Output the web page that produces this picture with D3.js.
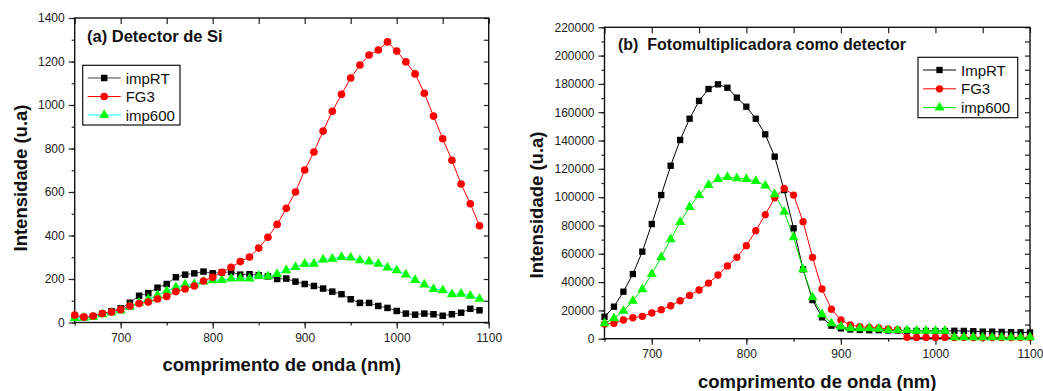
<!DOCTYPE html>
<html>
<head>
<meta charset="utf-8">
<script src="https://cdn.jsdelivr.net/npm/d3@7"></script>
<style>
  body { margin: 0; background: #fff; }
  svg { display: block; font-family: Arial, "Liberation Sans", Helvetica, sans-serif; }
  .tick text { fill: #222; font-size: 12px; }
  .tick line { stroke: #222; stroke-width: 1.2; }
</style>
</head>
<body>
<svg id="chart" width="1043" height="391"></svg>
<script>
// wavelengths (nm)
var wlA = [650,660,670,680,690,700,710,720,730,740,750,760,770,780,790,800,810,820,830,840,
           850,860,870,880,890,900,910,920,930,940,950,960,970,980,990,1000,1010,1020,1030,1040,
           1050,1060,1070,1080,1090];
var wlB = [650,660,670,680,690,700,710,720,730,740,750,760,770,780,790,800,810,820,830,840,
           850,860,870,880,890,900,910,920,930,940,950,960,970,980,990,1000,1010,1020,1030,1040,
           1050,1060,1070,1080,1090,1100];

// (a) Detector de Si
var impRT_a = [25,25,28,40,52,65,91,123,135,160,177,208,220,226,234,226,231,232,220,222,
               217,212,200,202,188,177,168,156,142,130,107,90,90,76,67,53,41,36,41,38,
               31,38,45,63,56];
var fg3_a = [34,25,30,41,48,59,76,87,94,108,120,142,154,168,191,208,231,254,280,301,
             342,392,451,525,600,701,784,880,971,1049,1124,1184,1230,1253,1290,1248,1198,1143,1054,949,
             845,746,637,546,445];
var imp600_a = [20,22,25,38,45,55,72,90,108,125,145,162,174,177,188,194,195,202,203,202,
                215,212,223,240,255,270,270,289,293,301,298,286,280,270,252,240,220,195,174,154,
                148,130,132,123,109];

// (b) Fotomultiplicadora como detector
var impRT_b = [15500,22600,33200,45700,61500,81000,101500,122200,140400,155400,
               168000,176400,179700,177300,170300,163900,155400,144400,128600,105000,
               78000,49000,27300,15100,9200,7300,6500,6200,6000,6000,
               5800,5800,5600,5500,5500,5400,5400,5600,5500,5300,
               5000,5000,4800,4600,4500,4400];
var fg3_b = [10400,10900,13200,14800,15800,18200,20500,23300,26800,30600,
             34400,39300,45000,51400,57500,65700,76300,87600,99500,106200,
             101500,82700,57500,35100,20800,13200,9700,8500,8000,7600,
             6900,6400,1000,900,900,900,900,800,800,800,
             800,800,800,800,800,800];
var imp600_b = [10900,14400,19600,26800,34900,45700,57500,70200,82400,93000,
                101500,108600,112800,114200,113300,112800,111400,108100,102000,89700,
                71600,49000,29200,17200,10900,8500,7300,7300,7300,6900,
                6000,6000,6000,5600,5600,5600,5600,1000,1000,1000,
                1000,1000,1000,1000,1000,1000];

var xTicks = [700,800,900,1000,1100];
var xMinor = [650,700,750,800,850,900,950,1000,1050,1100];
var yTicksA = [0,200,400,600,800,1000,1200,1400];
var yMinorA = [0,100,200,300,400,500,600,700,800,900,1000,1100,1200,1300,1400];
var yTicksB = [0,20000,40000,60000,80000,100000,120000,140000,160000,180000,200000,220000];
var yMinorB = [0,10000,20000,30000,40000,50000,60000,70000,80000,90000,100000,110000,
               120000,130000,140000,150000,160000,170000,180000,190000,200000,210000,220000];

var svg = d3.select("#chart");
var fmt = d3.format("d");

function drawPanel(p) {
  var x = d3.scaleLinear().domain([650, 1100]).range([p.left, p.right]);
  var y = d3.scaleLinear().domain([0, p.ymax]).range([p.bottom, p.top]);
  var g = svg.append("g");

  // minor ticks
  g.append("g").attr("transform", "translate(" + p.left + ",0)")
    .call(d3.axisLeft(y).tickValues(p.yMinor).tickSize(3).tickFormat(""));
  g.append("g").attr("transform", "translate(0," + p.bottom + ")")
    .call(d3.axisBottom(x).tickValues(xMinor).tickSize(3).tickFormat(""));
  // major ticks
  g.append("g").attr("transform", "translate(" + p.left + ",0)")
    .call(d3.axisLeft(y).tickValues(p.yTicks).tickSize(6).tickPadding(4).tickFormat(fmt));
  g.append("g").attr("transform", "translate(0," + p.bottom + ")")
    .call(d3.axisBottom(x).tickValues(xTicks).tickSize(6).tickPadding(5).tickFormat(fmt));
  // mirrored inward ticks on top and right
  g.append("g").attr("transform", "translate(0," + p.top + ")")
    .call(d3.axisBottom(x).tickValues(xMinor).tickSize(6).tickFormat(""));
  g.append("g").attr("transform", "translate(" + p.right + ",0)")
    .call(d3.axisLeft(y).tickValues(p.yMinor).tickSize(5).tickFormat(""));
  g.selectAll(".domain").remove();

  g.append("rect")
    .attr("x", p.left).attr("y", p.top)
    .attr("width", p.right - p.left).attr("height", p.bottom - p.top)
    .attr("fill", "none").attr("stroke", "#111").attr("stroke-width", 1.4);

  var line = d3.line().x(function(d) { return x(d[0]); }).y(function(d) { return y(d[1]); });

  p.series.forEach(function(s) {
    var pts = p.wl.map(function(w, i) { return [w, s.values[i]]; });
    g.append("path").datum(pts)
      .attr("d", line).attr("fill", "none")
      .attr("stroke", s.line).attr("stroke-width", 1);
  });
  p.order.forEach(function(k) {
    var s = p.series[k];
    var sym = d3.symbol().type(s.shape).size(s.size);
    g.append("g").selectAll("path")
      .data(p.wl.map(function(w, i) { return [w, s.values[i]]; }))
      .enter().append("path")
      .attr("transform", function(d) { return "translate(" + x(d[0]) + "," + y(d[1]) + ")"; })
      .attr("d", sym)
      .attr("fill", s.fill);
  });

  // title
  g.append("text").attr("x", p.titleX).attr("y", p.titleY)
    .attr("font-weight", "bold").attr("font-size", p.titleSize)
    .style("white-space", "pre").attr("fill", "#111")
    .text(p.title);

  // legend
  var L = p.legend;
  g.append("rect").attr("x", L.x).attr("y", L.y).attr("width", L.w).attr("height", L.h)
    .attr("fill", "#fff").attr("stroke", "#111").attr("stroke-width", 1.2);
  p.series.forEach(function(s, i) {
    var ly = L.y + L.first + i * L.step;
    g.append("line").attr("x1", L.x + 5).attr("x2", L.x + 38).attr("y1", ly).attr("y2", ly)
      .attr("stroke", s.line).attr("stroke-width", 1);
    g.append("path").attr("transform", "translate(" + (L.x + 21.5) + "," + ly + ")")
      .attr("d", d3.symbol().type(s.shape).size(s.size)).attr("fill", s.fill);
    g.append("text").attr("x", L.x + 43).attr("y", ly + 5.5)
      .attr("font-size", 15).attr("fill", "#111").text(s.name);
  });

  // axis titles
  g.append("text")
    .attr("transform", "translate(" + p.yLabX + "," + p.yLabY + ") rotate(-90)")
    .attr("text-anchor", "middle").attr("font-weight", "bold").attr("font-size", 18.5)
    .attr("fill", "#111").text("Intensidade (u.a)");
  g.append("text")
    .attr("x", (p.left + p.right) / 2).attr("y", p.xLabY)
    .attr("text-anchor", "middle").attr("font-weight", "bold").attr("font-size", 18.5)
    .attr("fill", "#111").text("comprimento de onda (nm)");
}

drawPanel({
  left: 74.7, right: 488.7, top: 18, bottom: 322.5, ymax: 1400,
  yTicks: yTicksA, yMinor: yMinorA, wl: wlA,
  title: "(a) Detector de Si", titleX: 87, titleY: 42, titleSize: 16.5,
  legend: { x: 82.7, y: 65.3, w: 97.3, h: 59.7, first: 12.7, step: 18.5 },
  yLabX: 27, yLabY: 178, xLabY: 371,
  order: [0, 2, 1],
  series: [
    { name: "impRT", values: impRT_a, line: "#444", fill: "#000", shape: d3.symbolSquare, size: 42 },
    { name: "FG3", values: fg3_a, line: "#ff0000", fill: "#ff0000", shape: d3.symbolCircle, size: 46 },
    { name: "imp600", values: imp600_a, line: "#00ffff", fill: "#00ff00", shape: d3.symbolTriangle, size: 44 }
  ]
});

drawPanel({
  left: 604.5, right: 1030, top: 27.3, bottom: 338.7, ymax: 220000,
  yTicks: yTicksB, yMinor: yMinorB, wl: wlB,
  title: "(b)  Fotomultiplicadora como detector", titleX: 618, titleY: 50, titleSize: 16,
  legend: { x: 918, y: 57.3, w: 99.7, h: 60.4, first: 12.7, step: 18.8 },
  yLabX: 543, yLabY: 205, xLabY: 388,
  order: [0, 1, 2],
  series: [
    { name: "ImpRT", values: impRT_b, line: "#000", fill: "#000", shape: d3.symbolSquare, size: 40 },
    { name: "FG3", values: fg3_b, line: "#ff0000", fill: "#ff0000", shape: d3.symbolCircle, size: 42 },
    { name: "imp600", values: imp600_b, line: "#00dd00", fill: "#00ff00", shape: d3.symbolTriangle, size: 44 }
  ]
});
</script>
</body>
</html>
